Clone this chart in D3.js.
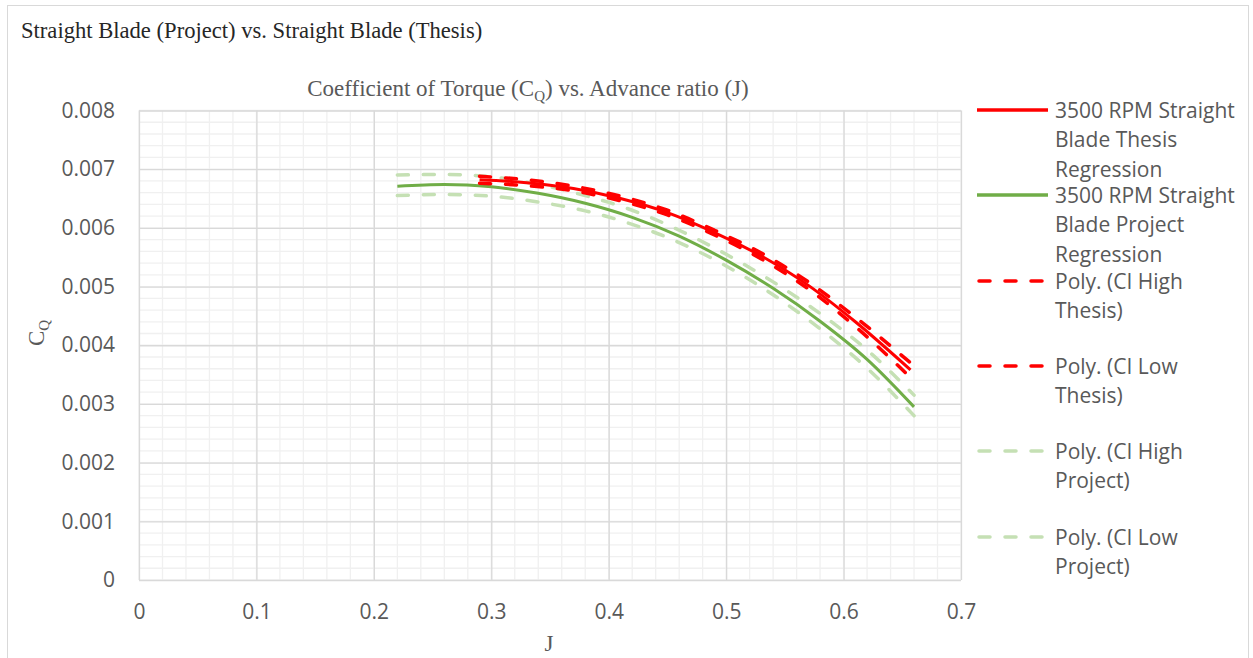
<!DOCTYPE html>
<html><head><meta charset="utf-8">
<script src="https://cdn.jsdelivr.net/npm/d3@7/dist/d3.min.js"></script>
<style>body{margin:0;background:#fff}svg{display:block}</style>
</head><body>
<svg id="c" width="1253" height="658"></svg>
<script>
// ---- data ----
const xTicks = [0, 0.1, 0.2, 0.3, 0.4, 0.5, 0.6, 0.7];
const yTicks = [0, 0.001, 0.002, 0.003, 0.004, 0.005, 0.006, 0.007, 0.008];
const yTickLabels = ["0", "0.001", "0.002", "0.003", "0.004", "0.005", "0.006", "0.007", "0.008"];

const thesisJ    = [0.29, 0.33, 0.37, 0.41, 0.45, 0.49, 0.53, 0.57, 0.61, 0.657];
const thesisReg  = [0.00682, 0.00677, 0.00667, 0.00650, 0.00626, 0.00592, 0.00552, 0.00502, 0.00440, 0.00358];
const thesisHigh = [0.00688, 0.00682, 0.00671, 0.00654, 0.00630, 0.00596, 0.00557, 0.00508, 0.00448, 0.00370];
const thesisLow  = [0.00676, 0.00672, 0.00663, 0.00646, 0.00622, 0.00588, 0.00547, 0.00496, 0.00432, 0.00345];

const projectJ    = [0.22, 0.26, 0.30, 0.34, 0.38, 0.42, 0.46, 0.50, 0.54, 0.58, 0.62, 0.66];
const projectReg  = [0.00671, 0.00674, 0.00670, 0.00659, 0.00642, 0.00618, 0.00586, 0.00545, 0.00497, 0.00441, 0.00376, 0.00295];
const projectHigh = [0.00690, 0.00691, 0.00687, 0.00674, 0.00655, 0.00630, 0.00596, 0.00555, 0.00508, 0.00454, 0.00392, 0.00315];
const projectLow  = [0.00655, 0.00657, 0.00654, 0.00644, 0.00629, 0.00606, 0.00575, 0.00535, 0.00486, 0.00428, 0.00361, 0.00280];

const seriesNames = ["3500 RPM Straight Blade Thesis Regression", "3500 RPM Straight Blade Project Regression",
  "Poly. (CI High Thesis)", "Poly. (CI Low Thesis)", "Poly. (CI High Project)", "Poly. (CI Low Project)"];
const legendLines = [["3500 RPM Straight","Blade Thesis","Regression"],["3500 RPM Straight","Blade Project","Regression"],
  ["Poly. (CI High","Thesis)"],["Poly. (CI Low","Thesis)"],["Poly. (CI High","Project)"],["Poly. (CI Low","Project)"]];

// ---- drawing ----
const svg = d3.select("#c");
const RED = "#ff0000", GREEN = "#70ad47", LGREEN = "#c5e0b4";
const x = d3.scaleLinear().domain([0, 0.7]).range([139, 961]);
const y = d3.scaleLinear().domain([0, 0.008]).range([580, 110.5]);

// outer chart border
svg.append("rect").attr("x", 7.5).attr("y", 5.5).attr("width", 1241).attr("height", 700)
  .attr("fill", "none").attr("stroke", "#d9d9d9").attr("stroke-width", 1);

// title
svg.append("text").attr("x", 21).attr("y", 38).attr("font-family", "Liberation Serif")
  .attr("font-size", 22.6).attr("fill", "#262626").text("Straight Blade (Project) vs. Straight Blade (Thesis)");

// chart title
const ct = svg.append("text").attr("x", 528).attr("y", 96).attr("text-anchor", "middle")
  .attr("font-family", "Liberation Serif").attr("font-size", 23).attr("fill", "#595959");
ct.append("tspan").text("Coefficient of Torque (C");
ct.append("tspan").attr("font-size", 15).attr("dy", 5).text("Q");
ct.append("tspan").attr("dy", -5).text(") vs. Advance ratio (J)");

// minor grid
const minorX = d3.range(0, 0.7001, 0.02);
const minorY = d3.range(0, 0.008001, 0.0002);
const g = svg.append("g");
g.selectAll(".mx").data(minorX).enter().append("line")
  .attr("x1", d => x(d)).attr("x2", d => x(d)).attr("y1", y(0)).attr("y2", y(0.008))
  .attr("stroke", "#f0f0f0").attr("stroke-width", 1.3);
g.selectAll(".my").data(minorY).enter().append("line")
  .attr("y1", d => y(d)).attr("y2", d => y(d)).attr("x1", x(0)).attr("x2", x(0.7))
  .attr("stroke", "#f0f0f0").attr("stroke-width", 1.3);
// major grid via axes
const yAxisGrid = d3.axisLeft(y).tickValues(yTicks).tickSize(-(x(0.7) - x(0))).tickFormat("");
const xAxisGrid = d3.axisBottom(x).tickValues(xTicks).tickSize(-(y(0) - y(0.008))).tickFormat("");
const gy = svg.append("g").attr("transform", `translate(${x(0)},0)`).call(yAxisGrid);
const gx = svg.append("g").attr("transform", `translate(0,${y(0)})`).call(xAxisGrid);
[gx, gy].forEach(a => { a.select(".domain").remove(); a.selectAll("line").attr("stroke", "#d9d9d9").attr("stroke-width", 1.3); });

// tick labels
const yAxis = d3.axisLeft(y).tickValues(yTicks).tickSize(0).tickPadding(24).tickFormat((d, i) => yTickLabels[i]);
const xAxis = d3.axisBottom(x).tickValues(xTicks).tickSize(0).tickPadding(24).tickFormat(d => String(d));
const ly = svg.append("g").attr("transform", `translate(${x(0)},0)`).call(yAxis);
const lx = svg.append("g").attr("transform", `translate(0,${y(0)})`).call(xAxis);
[lx, ly].forEach(a => {
  a.select(".domain").remove();
  a.selectAll("text").attr("font-family", "Open Sans").attr("font-size", 21).attr("fill", "#595959");
});

// axis titles
svg.append("text").attr("x", 549).attr("y", 651).attr("text-anchor", "middle")
  .attr("font-family", "Liberation Serif").attr("font-size", 23).attr("fill", "#595959").text("J");
const yt = svg.append("text").attr("transform", "translate(44,333) rotate(-90)").attr("text-anchor", "middle")
  .attr("font-family", "Liberation Serif").attr("font-size", 23).attr("fill", "#595959");
yt.append("tspan").text("C");
yt.append("tspan").attr("font-size", 15).attr("dy", 5).text("Q");

// curves
const line = d3.line().x(d => x(d[0])).y(d => y(d[1])).curve(d3.curveMonotoneX);
const zip = (a, b) => a.map((v, i) => [v, b[i]]);
const curves = [
  {d: zip(projectJ, projectHigh), c: LGREEN, dash: "11,15", w: 3.5},
  {d: zip(projectJ, projectLow), c: LGREEN, dash: "11,15", w: 3.5},
  {d: zip(projectJ, projectReg), c: GREEN, dash: null, w: 3},
  {d: zip(thesisJ, thesisReg), c: RED, dash: null, w: 3},
  {d: zip(thesisJ, thesisHigh), c: RED, dash: "11,15", w: 3.5},
  {d: zip(thesisJ, thesisLow), c: RED, dash: "11,15", w: 3.5},
];
curves.forEach(cv => {
  svg.append("path").attr("d", line(cv.d)).attr("fill", "none").attr("stroke", cv.c)
    .attr("stroke-width", cv.w).attr("stroke-dasharray", cv.dash).attr("stroke-linecap", cv.dash ? "round" : "butt");
});

// legend
const legY = [110, 195, 281, 366, 451, 537];
const legStyle = [{c: RED, dash: null}, {c: GREEN, dash: null}, {c: RED, dash: "11,15"}, {c: RED, dash: "11,15"},
  {c: LGREEN, dash: "11,15"}, {c: LGREEN, dash: "11,15"}];
legY.forEach((ly0, i) => {
  const s = legStyle[i];
  svg.append("line").attr("x1", s.dash ? 979 : 977).attr("x2", s.dash ? 1046 : 1048).attr("y1", ly0).attr("y2", ly0)
    .attr("stroke", s.c).attr("stroke-width", 3.5).attr("stroke-dasharray", s.dash)
    .attr("stroke-linecap", s.dash ? "round" : "butt");
  const t = svg.append("text").attr("font-family", "Open Sans").attr("font-size", 21).attr("fill", "#595959");
  legendLines[i].forEach((ln, k) => {
    t.append("tspan").attr("x", 1055).attr("y", ly0 + 7.5 + k * 29.5).text(ln);
  });
});
</script>
</body></html>
